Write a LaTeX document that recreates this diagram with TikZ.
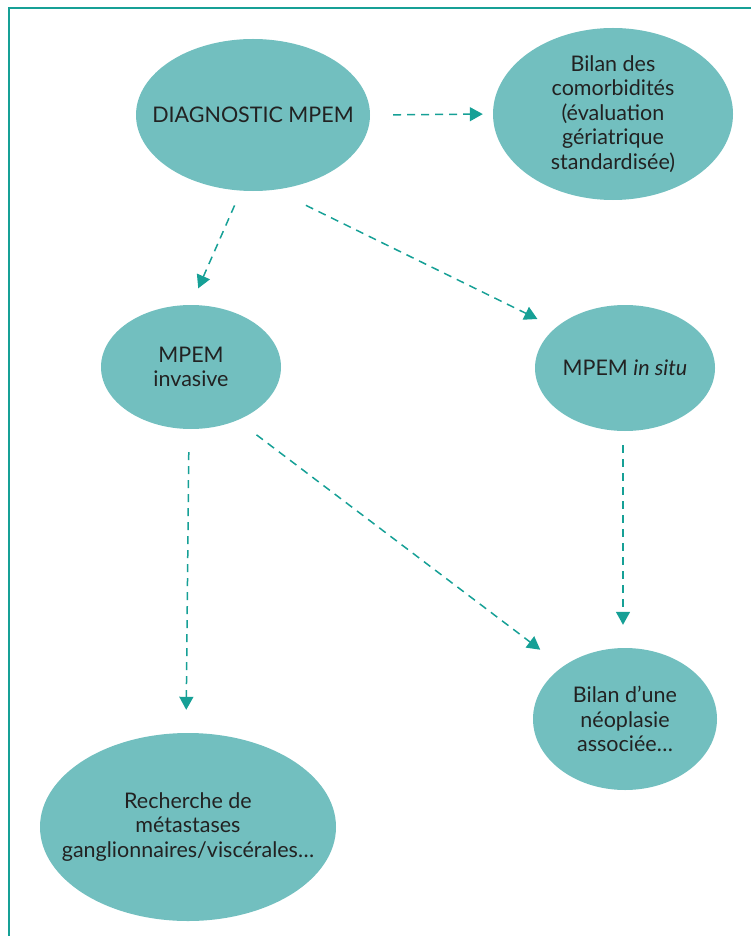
\documentclass[tikz,border=0pt]{standalone}
\usepackage{fontspec}
\setmainfont{Lato}
\usetikzlibrary{shapes.geometric,arrows.meta}
\definecolor{ellfill}{HTML}{72BFBF}
\definecolor{arrcol}{HTML}{16A096}
\definecolor{txtcol}{HTML}{222222}
\tikzset{
  bubble/.style={ellipse, fill=ellfill, draw=none, inner xsep=-60pt, inner ysep=-20pt, align=center,
    text=txtcol, font=\fontsize{21.5}{24.5}\selectfont},
  flow/.style={arrcol, line width=1.5pt, dash pattern=on 8pt off 6pt,
    -{Triangle[length=13pt,width=14pt]}}
}
\begin{document}
\begin{tikzpicture}[x=1pt,y=-1pt]
\useasboundingbox (0,0) rectangle (751,936);
\draw[arrcol, line width=1.3pt] (9,936) -- (9,8) -- (751,8);
\node[bubble, minimum width=234pt, minimum height=152pt] (diag) at (253,115) {\fontsize{21.5}{24.5}\selectfont DIAGNOSTIC MPEM};
\node[bubble, minimum width=240pt, minimum height=172pt] (bilan) at (613,114) {Bilan des\\comorbidités\\(évaluation\\gériatrique\\standardisée)};
\node[bubble, minimum width=180pt, minimum height=124pt] (inv) at (191,367) {MPEM\\invasive};
\node[bubble, minimum width=180pt, minimum height=126pt] (insitu) at (625,368) {MPEM \textit{in situ}};
\node[bubble, minimum width=184pt, minimum height=142pt] (neo) at (625,719) {Bilan d’une\\néoplasie\\associée…};
\node[bubble, minimum width=296pt, minimum height=188pt] (meta) at (188,827) {Recherche de\\métastases\\ganglionnaires/viscérales…};
\draw[flow, shorten <=23pt, shorten >=10pt] (diag.east) -- (bilan.west);
\draw[flow, shorten <=16pt, shorten >=18pt] (diag.261) -- (inv.90);
\draw[flow, shorten <=35pt, shorten >=20pt] (diag.286) -- (insitu.150);
\draw[flow, shorten <=14pt, shorten >=23pt] ([xshift=-2pt]insitu.south) -- ([xshift=-2pt]neo.north);
\draw[flow, shorten <=23pt, shorten >=23pt] ([xshift=-2pt]inv.south) -- ([xshift=-2pt]meta.north);
\draw[flow, shorten <=24pt, shorten >=28pt] (inv.311) -- (neo.140);
\end{tikzpicture}
\end{document}
